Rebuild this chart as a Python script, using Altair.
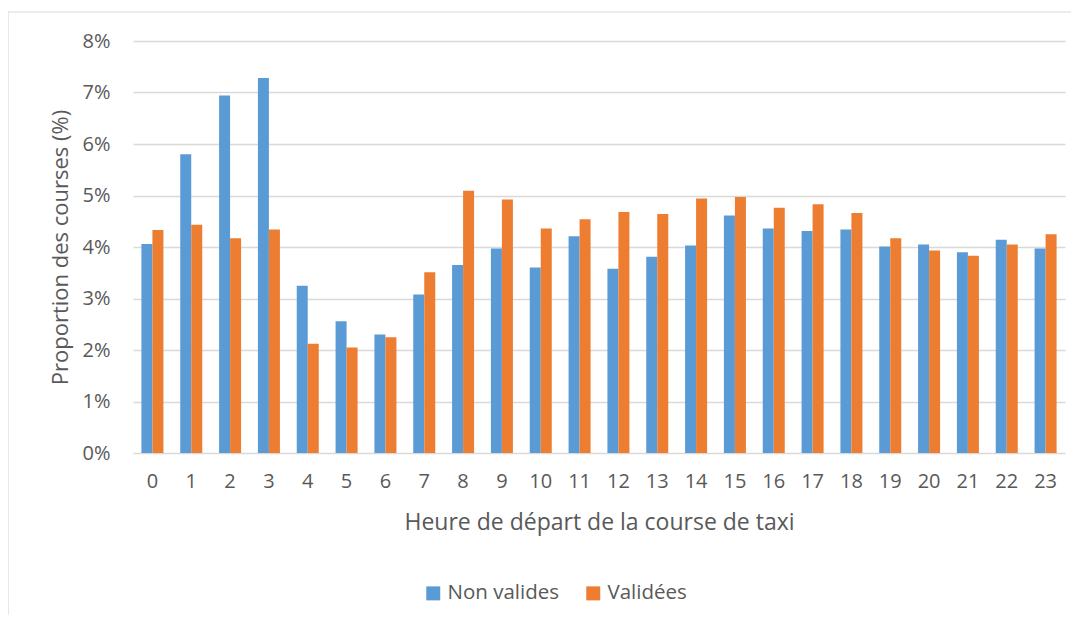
import altair as alt
import pandas as pd

hours = list(range(24))
non_valides = [4.06, 5.80, 6.94, 7.28, 3.25, 2.56, 2.30, 3.08, 3.65, 3.97, 3.60, 4.21,
               3.58, 3.81, 4.03, 4.61, 4.36, 4.31, 4.34, 4.01, 4.05, 3.90, 4.14, 3.97]
validees = [4.33, 4.43, 4.17, 4.34, 2.12, 2.05, 2.25, 3.51, 5.09, 4.92, 4.36, 4.54,
            4.68, 4.64, 4.94, 4.97, 4.76, 4.83, 4.66, 4.17, 3.93, 3.83, 4.05, 4.25]
series = ["Non valides", "Validées"]
colors = ["#5B9BD5", "#ED7D31"]

rows = []
for h, a, b in zip(hours, non_valides, validees):
    rows.append({"heure": h, "serie": series[0], "valeur": a / 100})
    rows.append({"heure": h, "serie": series[1], "valeur": b / 100})
df = pd.DataFrame(rows)

FONT = "Open Sans"
TXT = "#595959"
GRID = "#D9D9D9"

W, H = 932, 412
PAD_L, PAD_T = 125, 33
TOTAL_W, TOTAL_H = 1063, 607

bars = alt.Chart(df).mark_bar(size=11).encode(
    x=alt.X("heure:O", title="Heure de départ de la course de taxi",
            scale=alt.Scale(paddingInner=0.433, paddingOuter=0.2165),
            axis=alt.Axis(labelAngle=0, domain=False, ticks=False, tickSize=0,
                          labelPadding=18, titlePadding=20, labelFontSize=20,
                          titleFontSize=23, labelColor=TXT, titleColor=TXT,
                          labelFont=FONT, titleFont=FONT, titleFontWeight="normal")),
    xOffset=alt.XOffset("serie:N", sort=series),
    y=alt.Y("valeur:Q", title="Proportion des courses (%)",
            scale=alt.Scale(domain=[0, 0.08]),
            axis=alt.Axis(format=".0%", values=[0, 0.01, 0.02, 0.03, 0.04, 0.05, 0.06, 0.07, 0.08],
                          domain=False, ticks=False, tickSize=0, labelPadding=23,
                          titlePadding=10, grid=True, gridColor=GRID, gridWidth=1.5,
                          labelFontSize=20, titleFontSize=22, labelColor=TXT,
                          titleColor=TXT, labelFont=FONT, titleFont=FONT,
                          titleFontWeight="normal")),
    color=alt.Color("serie:N", sort=series,
                    scale=alt.Scale(domain=series, range=colors),
                    legend=alt.Legend(title=None, orient="none", legendX=290, legendY=542,
                                      direction="horizontal", symbolType="square",
                                      symbolSize=196, symbolStrokeWidth=0,
                                      labelFontSize=20.5, labelFont=FONT, labelColor=TXT,
                                      labelOffset=4, columnPadding=24, padding=0)),
)

frame = alt.Chart(alt.Data(values=[{"a": 1}])).mark_rect(
    fill=None, stroke=GRID, strokeWidth=1.2
).encode(
    x=alt.value(-PAD_L), x2=alt.value(TOTAL_W - PAD_L + 30),
    y=alt.value(12 - 8 - PAD_T), y2=alt.value(TOTAL_H + 30),
)

chart = alt.layer(frame, bars).properties(
    width=W, height=H,
    autosize=alt.AutoSizeParams(type="none"),
    padding={"left": PAD_L, "top": PAD_T, "right": TOTAL_W - PAD_L - W,
             "bottom": TOTAL_H - PAD_T - H},
    background="white",
).configure_view(stroke=None)

chart.save("out.html", embed_options={"renderer": "svg", "actions": False})
